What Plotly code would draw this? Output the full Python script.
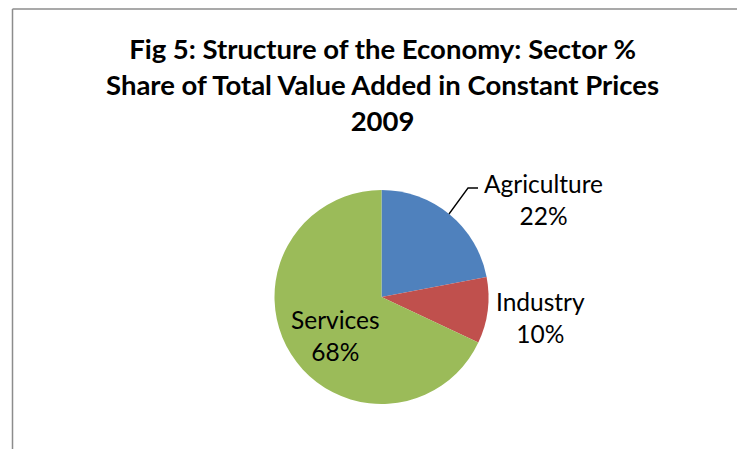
import plotly.graph_objects as go

# Sector shares of total value added, 2009 (constant prices)
sectors = ["Agriculture", "Industry", "Services"]
shares = [22, 10, 68]
colors = ["#4F81BD", "#C0504D", "#9BBB59"]

title_lines = [
    "Fig 5: Structure of the Economy: Sector %",
    "Share of Total Value Added in Constant Prices",
    "2009",
]

W, H = 737, 449
cx, cy, r = 381.5, 297, 107  # pie centre / radius in pixels


def px(x):
    return x / W


def py(y):
    return 1 - y / H


fig = go.Figure(
    go.Pie(
        labels=sectors,
        values=shares,
        marker=dict(colors=colors, line=dict(width=0)),
        sort=False,
        direction="clockwise",
        rotation=0,
        textinfo="none",
        hoverinfo="label+percent",
        showlegend=False,
        domain=dict(x=[px(cx - r), px(cx + r)], y=[py(cy + r), py(cy - r)]),
    )
)

label_font = dict(family="Lato, 'Open Sans', sans-serif", size=24.5, color="#000000")
label_pos = {
    "Agriculture": (543, 199),
    "Industry": (540, 317),
    "Services": (335, 335),
}
annotations = []
total = sum(shares)
for name, val in zip(sectors, shares):
    x, y = label_pos[name]
    annotations.append(
        dict(
            text=f"{name}<br>{round(100 * val / total)}%",
            x=px(x), y=py(y), xref="paper", yref="paper",
            xanchor="center", yanchor="middle",
            showarrow=False, font=label_font, align="center",
        )
    )

annotations.append(
    dict(
        text="<b>" + "<br>".join(title_lines) + "</b>",
        x=px(382), y=py(84), xref="paper", yref="paper",
        xanchor="center", yanchor="middle", showarrow=False, align="center",
        font=dict(family="Lato, 'Open Sans', sans-serif", size=27.5, color="#000000"),
    )
)

shapes = [
    # chart-area frame (left and top edges visible)
    dict(type="line", xref="paper", yref="paper",
         x0=px(12.5), x1=px(12.5), y0=py(9), y1=py(460),
         line=dict(color="#8C8C8C", width=1.5)),
    dict(type="line", xref="paper", yref="paper",
         x0=px(12.5), x1=px(750), y0=py(9), y1=py(9),
         line=dict(color="#8C8C8C", width=1.5)),
    # leader line for Agriculture label
    dict(type="path", xref="paper", yref="paper",
         path=f"M {px(449)},{py(214)} L {px(468)},{py(188)} L {px(478)},{py(188)}",
         line=dict(color="#000000", width=1.3)),
]

fig.update_layout(
    width=W, height=H,
    margin=dict(l=0, r=0, t=0, b=0),
    paper_bgcolor="#FFFFFF",
    plot_bgcolor="#FFFFFF",
    annotations=annotations,
    shapes=shapes,
)

fig.write_html("out.html")
